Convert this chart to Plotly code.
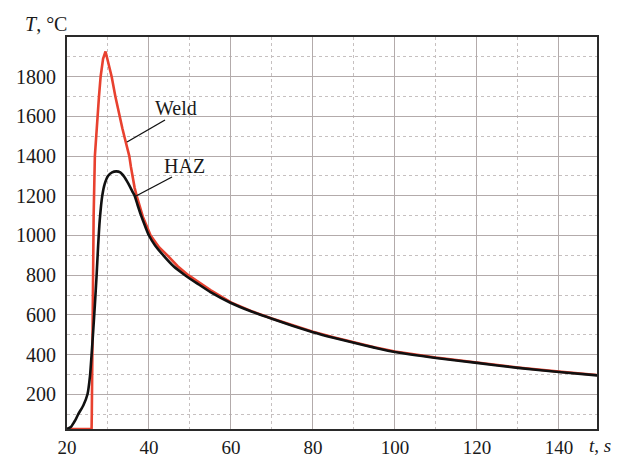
import plotly.graph_objects as go

# Weld (red) thermal cycle: time (s), temperature (°C)
weld_t = [20, 26.0, 26.05, 26.15, 26.25, 26.5, 26.8, 27.1, 27.4, 27.8, 28.2, 28.8, 29.4,
          30.0, 30.9, 31.8, 32.8, 33.5, 34.1, 34.6, 35.2, 35.6, 36.0, 36.5, 37.0, 38.5,
          40.4, 42.5, 44.5, 47, 49.6, 55, 60, 65, 70, 75, 80, 85, 90, 95, 100, 110, 120,
          130, 140, 149.5]
weld_T = [25, 25, 100, 400, 700, 1100, 1400, 1500, 1600, 1700, 1800, 1890, 1927,
          1875, 1800, 1700, 1600, 1540, 1490, 1455, 1400, 1345, 1290, 1240, 1200, 1095,
          1000, 940, 900, 845, 800, 725, 663, 619, 582, 547, 515, 487, 461, 437, 415, 385, 360,
          335, 314, 297]

# HAZ (black) thermal cycle
haz_t = [20, 21.0, 21.5, 22.0, 22.75, 24.0, 25.0, 25.6, 26.0, 26.4, 26.8, 27.2, 27.6, 28.0,
         28.6, 29.2, 30.0, 31.0, 32.0, 33.0, 34.0, 35.0, 36.0, 36.5, 37.2, 38.0, 39.0, 40.0,
         41.5, 43.5, 46.0, 48.8, 52, 55, 60, 65, 70, 75, 80, 85, 90, 95, 100, 110, 120, 130,
         140, 149.5]
haz_T = [25, 36, 52, 68, 100, 145, 200, 290, 400, 520, 650, 790, 950, 1080,
         1200, 1260, 1300, 1318, 1323, 1318, 1295, 1260, 1220, 1200, 1155, 1105, 1050, 1000,
         950, 900, 845, 800, 755, 715, 660, 617, 580, 545, 513, 485, 459, 435, 413, 383, 358, 333,
         312, 295]

x_ticks = [20, 40, 60, 80, 100, 120, 140]
y_ticks = [200, 400, 600, 800, 1000, 1200, 1400, 1600, 1800]

FONT = "Liberation Serif"
TXT = "#1a1a1a"
GRID = "#b3abab"

X0, X1 = 20, 149.3
Y0, Y1 = 25, 2000
# plot area in window pixels (page is offset 8px by body margin)
PL, PR, PT, PB = 67, 597, 37, 429
OFF = 8
FW, FH = 613, 450


def px2x(px):
    return X0 + (px - PL) / (PR - PL) * (X1 - X0)


def py2y(py):
    return Y0 + (PB - py) / (PB - PT) * (Y1 - Y0)


fig = go.Figure()
fig.add_trace(go.Scatter(x=weld_t, y=weld_T, mode="lines", name="Weld",
                         line=dict(color="#e8412f", width=2.6)))
fig.add_trace(go.Scatter(x=haz_t, y=haz_T, mode="lines", name="HAZ",
                         line=dict(color="#111111", width=2.6, shape="spline", smoothing=0.6)))

fig.update_layout(
    width=FW, height=FH,
    margin=dict(l=PL - OFF, r=FW - (PR - OFF), t=PT - OFF, b=FH - (PB - OFF), autoexpand=False),
    paper_bgcolor="white", plot_bgcolor="white",
    showlegend=False,
    font=dict(family=FONT, size=20, color=TXT),
)
fig.update_xaxes(
    range=[X0, X1], tickvals=x_ticks, ticktext=[str(v) for v in x_ticks],
    tickfont=dict(family=FONT, size=19, color=TXT),
    showgrid=True, gridcolor=GRID, gridwidth=1.3,
    minor=dict(dtick=10, tick0=0, showgrid=True, gridcolor="#c6c0c0", griddash="dot", gridwidth=1),
    showline=True, linecolor="#2a2a2a", linewidth=2, mirror=True,
    ticks="", zeroline=False, ticklabelstandoff=0, automargin=False,
)
fig.update_yaxes(
    range=[Y0, Y1], tickvals=y_ticks, ticktext=[str(v) for v in y_ticks],
    showgrid=True, gridcolor=GRID, gridwidth=1.3,
    minor=dict(dtick=100, tick0=0, showgrid=True, gridcolor="#c6c0c0", griddash="dot", gridwidth=1),
    showline=True, linecolor="#2a2a2a", linewidth=2, mirror=True,
    ticks="", zeroline=False, ticklabelstandoff=5, automargin=False,
)

W, H = PR - PL, PB - PT
# Axis titles
fig.add_annotation(x=(46 - PL) / W, y=(PB - 24) / H, xref="paper", yref="paper",
                   text="<i>T</i>, °C", showarrow=False, xanchor="center", yanchor="middle",
                   font=dict(family=FONT, size=20, color=TXT))
fig.add_annotation(x=(600 - PL) / W, y=(PB - 446) / H, xref="paper", yref="paper",
                   text="<i>t</i>, <i>s</i>", showarrow=False, xanchor="center", yanchor="middle",
                   font=dict(family=FONT, size=19, color=TXT))

# Curve labels
fig.add_annotation(x=px2x(176), y=py2y(108), xref="x", yref="y", text="Weld",
                   showarrow=False, font=dict(family=FONT, size=20, color=TXT))
fig.add_annotation(x=px2x(184), y=py2y(166), xref="x", yref="y", text="HAZ",
                   showarrow=False, font=dict(family=FONT, size=20, color=TXT))

# leader lines
fig.add_shape(type="line", x0=px2x(165), y0=py2y(120), x1=px2x(127), y1=py2y(142),
              xref="x", yref="y", line=dict(color="#111", width=1.4))
fig.add_shape(type="line", x0=px2x(172), y0=py2y(177), x1=px2x(136), y1=py2y(196),
              xref="x", yref="y", line=dict(color="#111", width=1.4))

fig.write_html("out.html")
